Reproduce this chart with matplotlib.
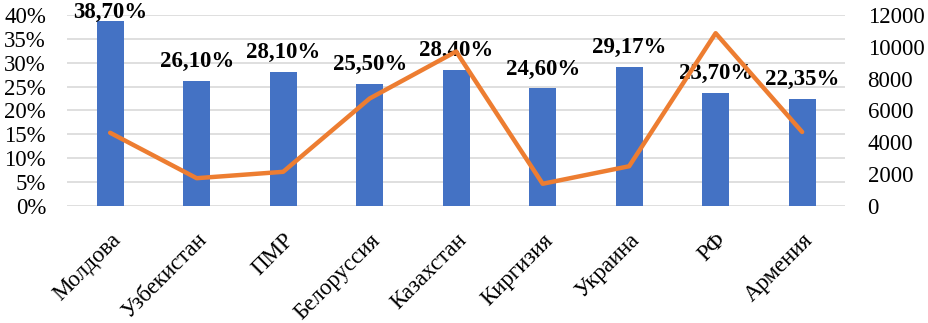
import matplotlib
matplotlib.use("Agg")
import matplotlib.pyplot as plt
import numpy as np

categories = ["Молдова", "Узбекистан", "ПМР", "Белоруссия", "Казахстан",
              "Киргизия", "Украина", "РФ", "Армения"]
shares = [38.70, 26.10, 28.10, 25.50, 28.40, 24.60, 29.17, 23.70, 22.35]
share_labels = ["38,70%", "26,10%", "28,10%", "25,50%", "28,40%",
                "24,60%", "29,17%", "23,70%", "22,35%"]
line_values = [4600, 1750, 2150, 6750, 9700, 1400, 2500, 10850, 4650]
left_ticks = [0, 5, 10, 15, 20, 25, 30, 35, 40]
right_ticks = [0, 2000, 4000, 6000, 8000, 10000, 12000]

plt.rcParams['font.family'] = ['Liberation Serif', 'DejaVu Serif']

fig = plt.figure(figsize=(9.29, 3.23), dpi=100)
ax = fig.add_axes([0.072, 0.362, 0.838, 0.592])
x = np.arange(len(categories))

ax.set_axisbelow(True)
for t in left_ticks:
    ax.axhline(t, color="#D9D9D9", lw=1.2, zorder=0)
bars = ax.bar(x, shares, width=0.31, color="#4472C4", zorder=2)
ax.set_ylim(0, 40)
ax.set_xlim(-0.5, len(categories) - 0.5)
ax.set_yticks(left_ticks)
ax.set_yticklabels([f"{t}%" for t in left_ticks], fontsize=16.5)
ax.set_xticks(x)
ax.set_xticklabels(categories, rotation=45, ha="right", rotation_mode="anchor", fontsize=16.5)
ax.tick_params(axis="both", length=0)
ax.tick_params(axis="y", pad=15)
ax.tick_params(axis="x", pad=17)
for s in ax.spines.values():
    s.set_visible(False)

# label offsets (points); the top label is kept inside the figure
label_offsets = [2.5, 10, 10, 10, 10, 10, 10, 10, 10]
for xi, v, lab, off in zip(x, shares, share_labels, label_offsets):
    ax.annotate(lab, (xi, v), xytext=(0, off), textcoords="offset points",
                ha="center", va="baseline", fontsize=16.5, fontweight="bold",
                clip_on=False, zorder=5)

ax2 = ax.twinx()
ax2.plot(x, line_values, color="#ED7D31", lw=3.2, zorder=3, solid_capstyle="round")
ax2.set_ylim(0, 12000)
ax2.set_yticks(right_ticks)
ax2.set_yticklabels([str(t) for t in right_ticks], fontsize=16.5)
ax2.tick_params(axis="y", length=0, pad=16)
for s in ax2.spines.values():
    s.set_visible(False)

fig.savefig("out.png", dpi=100)
